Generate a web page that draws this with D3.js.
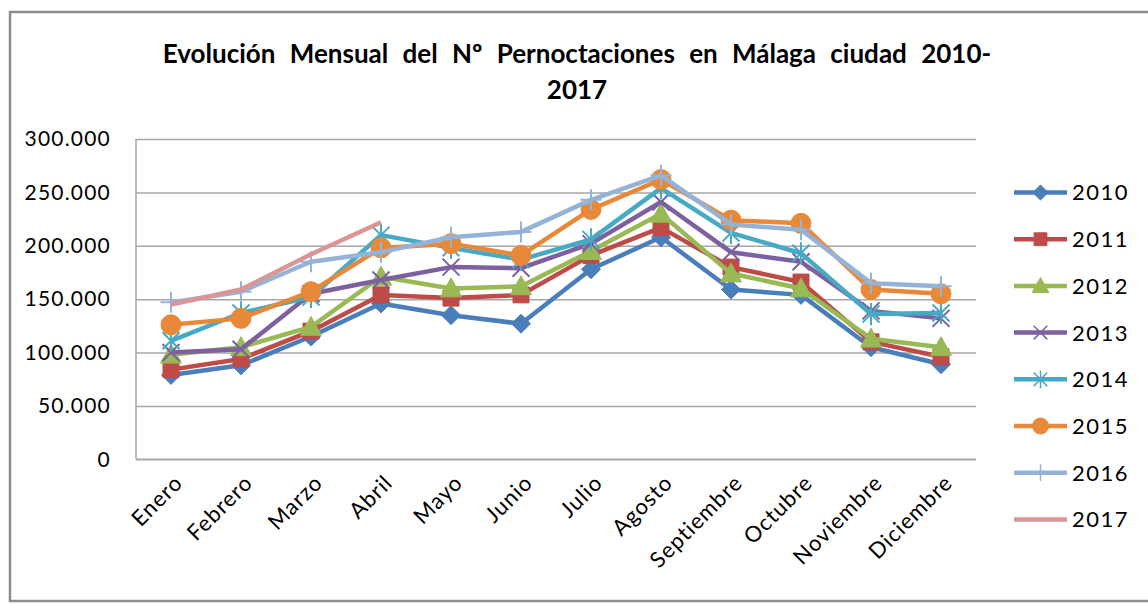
<!DOCTYPE html>
<html>
<head>
<meta charset="utf-8">
<script src="https://cdn.jsdelivr.net/npm/d3@7"></script>
<style>
  body { margin: 0; background: #fff; }
  text { font-family: Lato, "Open Sans", sans-serif; fill: #000; }
</style>
</head>
<body>
<div id="chart"></div>
<script>
var months = ["Enero", "Febrero", "Marzo", "Abril", "Mayo", "Junio", "Julio", "Agosto",
              "Septiembre", "Octubre", "Noviembre", "Diciembre"];
var years = ["2010", "2011", "2012", "2013", "2014", "2015", "2016", "2017"];
var yTicks = [0, 50000, 100000, 150000, 200000, 250000, 300000];

var v2010 = [79000, 88000, 115000, 146000, 135000, 127000, 178000, 208000, 159000, 154000, 105000, 89000];
var v2011 = [84000, 94000, 120000, 154000, 151000, 154000, 191000, 217000, 180000, 166000, 110000, 96000];
var v2012 = [98000, 105000, 124000, 171000, 160000, 162000, 195000, 230000, 174000, 160000, 113000, 105000];
var v2013 = [100000, 103000, 155000, 168000, 180000, 179000, 202000, 241000, 194000, 185000, 139000, 132000];
var v2014 = [111000, 137000, 152000, 210000, 198000, 187000, 206000, 254000, 212000, 193000, 136000, 137000];
var v2015 = [126000, 132000, 157000, 198000, 202000, 191000, 234000, 262000, 224000, 221000, 159000, 155000];
var v2016 = [147000, 157000, 185000, 194000, 208000, 213000, 243000, 266000, 220000, 215000, 165000, 162000];
var v2017 = [145000, 159000, 192000, 222000];

var colors = ["#4a7ebb", "#be4b48", "#98b954", "#7d60a0", "#46aac5", "#e8893a", "#95b3d7", "#d99694"];
var markers = ["diamond", "square", "triangle", "times", "asterisk", "circle", "plus", "none"];
var values = [v2010, v2011, v2012, v2013, v2014, v2015, v2016, v2017];

var W = 1148, H = 604;
var svg = d3.select("#chart").append("svg").attr("width", W).attr("height", H);

// outer frame
svg.append("rect")
    .attr("x", 10).attr("y", 12).attr("width", 1150).attr("height", 589)
    .attr("fill", "#fff").attr("stroke", "#8c8c8c").attr("stroke-width", 2.5);

// title
var title = svg.append("text")
    .attr("text-anchor", "middle")
    .style("font-size", "26px").style("font-weight", "bold")
    .style("word-spacing", "8px");
title.append("tspan").attr("x", 577).attr("y", 63)
    .text("Evolución Mensual del Nº Pernoctaciones en Málaga ciudad 2010-");
title.append("tspan").attr("x", 577).attr("y", 99).text("2017");

var plotLeft = 136, plotRight = 976, plotTop = 139, plotBottom = 459.3;

var x = d3.scaleBand().domain(months).range([plotLeft, plotRight]);
var y = d3.scaleLinear().domain([0, 300000]).range([plotBottom, plotTop]);

var loc = d3.formatLocale({decimal: ",", thousands: ".", grouping: [3], currency: ["", "€"]});
var fmt = loc.format(",.0f");

// gridlines + y labels
var yAxis = svg.append("g")
    .attr("transform", "translate(" + plotLeft + ",0)")
    .call(d3.axisLeft(y).tickValues(yTicks).tickFormat(fmt).tickSize(-(plotRight - plotLeft)).tickPadding(25));
yAxis.select(".domain").remove();
yAxis.selectAll(".tick line").attr("stroke", "#a6a6a6").attr("stroke-width", 1.5);
yAxis.selectAll(".tick text").style("font-size", "21px").style("letter-spacing", "1.2px").attr("fill", "#000");

svg.append("line")
    .attr("x1", plotLeft).attr("x2", plotLeft).attr("y1", plotTop).attr("y2", plotBottom)
    .attr("stroke", "#a6a6a6").attr("stroke-width", 1.5);

// x labels
var xAxis = svg.append("g").attr("transform", "translate(0," + plotBottom + ")");
xAxis.append("line").attr("x1", plotLeft).attr("x2", plotRight)
    .attr("stroke", "#a6a6a6").attr("stroke-width", 1.5);
xAxis.selectAll("text.mlabel")
    .data(months)
    .enter().append("text")
    .attr("class", "mlabel")
    .attr("text-anchor", "end")
    .style("font-size", "22px")
    .style("letter-spacing", "1px")
    .attr("transform", function(d) {
        return "translate(" + (x(d) + x.bandwidth() / 2 + 13) + ",25) rotate(-45)";
    })
    .text(function(d) { return d; });

function markerPath(type, s) {
    if (type == "diamond") return "M0," + (-s) + "L" + s + ",0L0," + s + "L" + (-s) + ",0Z";
    if (type == "square") return "M" + (-s) + "," + (-s) + "h" + (2 * s) + "v" + (2 * s) + "h" + (-2 * s) + "Z";
    if (type == "triangle") return "M0," + (-s) + "L" + s + "," + (s * 0.8) + "L" + (-s) + "," + (s * 0.8) + "Z";
    if (type == "times") return "M" + (-s) + "," + (-s) + "L" + s + "," + s + "M" + (-s) + "," + s + "L" + s + "," + (-s);
    if (type == "asterisk") return "M" + (-s) + "," + (-s) + "L" + s + "," + s + "M" + (-s) + "," + s + "L" + s + "," + (-s) +
        "M0," + (-s * 1.3) + "L0," + (s * 1.3);
    if (type == "plus") return "M" + (-s) + ",0L" + s + ",0M0," + (-s) + "L0," + s;
    if (type == "circle") return "M" + (-s) + ",0A" + s + "," + s + " 0 1,0 " + s + ",0A" + s + "," + s + " 0 1,0 " + (-s) + ",0Z";
    return "";
}
var markerSize = {diamond: 9.5, square: 8, triangle: 10.5, times: 8.5, asterisk: 8.5, circle: 10, plus: 10.5, none: 0};
var filled = {diamond: true, square: true, triangle: true, circle: true};

var line = d3.line()
    .x(function(d, i) { return x(months[i]) + x.bandwidth() / 2; })
    .y(function(d) { return y(d); });

values.forEach(function(vals, k) {
    var g = svg.append("g").attr("class", "series-" + years[k]);
    g.append("path")
        .datum(vals)
        .attr("fill", "none")
        .attr("stroke", colors[k])
        .attr("stroke-width", 4.5)
        .attr("stroke-linejoin", "round")
        .attr("d", line);
    var m = markers[k];
    if (m == "none") return;
    g.selectAll("path.mk")
        .data(vals)
        .enter().append("path")
        .attr("class", "mk")
        .attr("transform", function(d, i) {
            return "translate(" + (x(months[i]) + x.bandwidth() / 2) + "," + y(d) + ")";
        })
        .attr("d", markerPath(m, markerSize[m]))
        .attr("fill", filled[m] ? colors[k] : "none")
        .attr("stroke", colors[k])
        .attr("stroke-width", filled[m] ? 1 : 2);
});

// legend
var legend = svg.append("g");
var leg = legend.selectAll("g")
    .data(years)
    .enter().append("g")
    .attr("transform", function(d, i) { return "translate(1014," + (192.5 + i * 46.7) + ")"; });
leg.append("line")
    .attr("x1", 0).attr("x2", 53)
    .attr("stroke", function(d, i) { return colors[i]; })
    .attr("stroke-width", 4.5);
leg.append("path")
    .attr("transform", "translate(26.5,0)")
    .attr("d", function(d, i) { return markerPath(markers[i], markerSize[markers[i]] * 0.8); })
    .attr("fill", function(d, i) { return filled[markers[i]] ? colors[i] : "none"; })
    .attr("stroke", function(d, i) { return colors[i]; })
    .attr("stroke-width", function(d, i) { return filled[markers[i]] ? 1 : 1.5; });
leg.append("text")
    .attr("x", 58).attr("dy", "0.36em")
    .style("font-size", "22px")
    .style("letter-spacing", "1.5px")
    .text(function(d) { return d; });
</script>
</body>
</html>
